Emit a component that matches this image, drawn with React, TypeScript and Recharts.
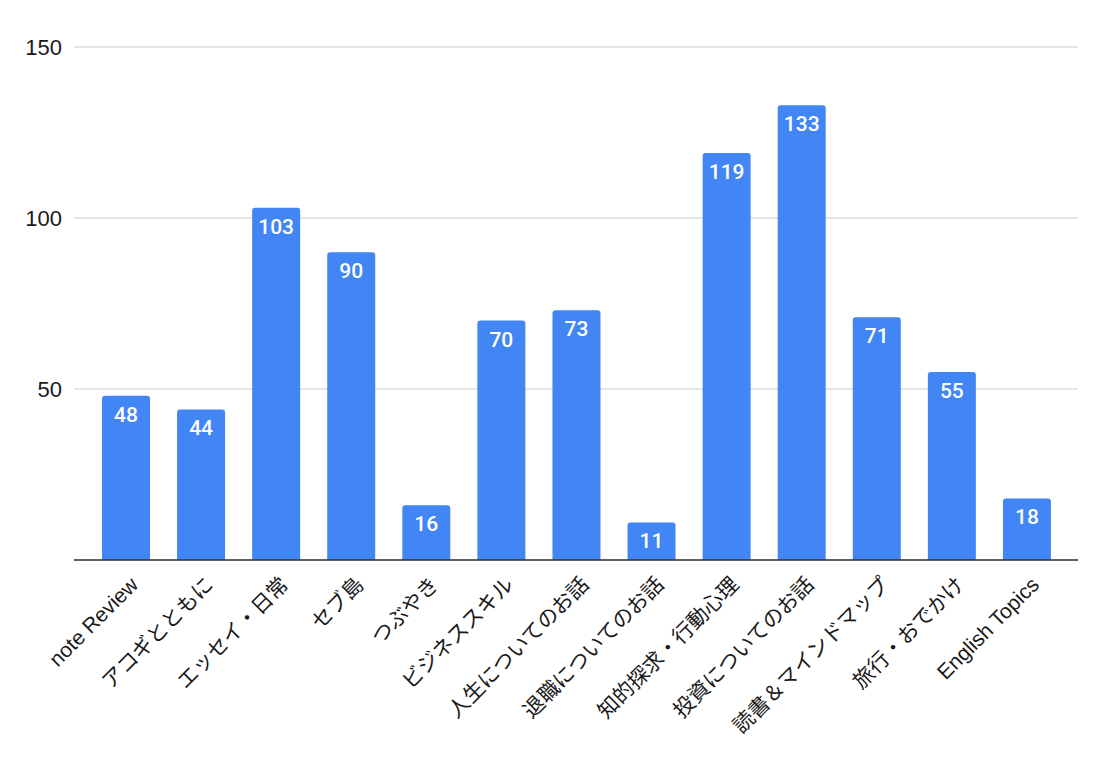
import React from 'react';
import { BarChart, Bar, XAxis, YAxis, CartesianGrid, LabelList } from 'recharts';

const categories = [
  'note Review',
  'アコギとともに',
  'エッセイ・日常',
  'セブ島',
  'つぶやき',
  'ビジネススキル',
  '人生についてのお話',
  '退職についてのお話',
  '知的探求・行動心理',
  '投資についてのお話',
  '読書＆マインドマップ',
  '旅行・おでかけ',
  'English Topics',
];
const counts = [48, 44, 103, 90, 16, 70, 73, 11, 119, 133, 71, 55, 18];
const yTicks = [0, 50, 100, 150];

const FONT = '"Liberation Sans", Arial, "Noto Sans CJK JP", sans-serif';

const chartData = categories.map((name, i) => ({ name, count: counts[i] }));

// rotated category label, anchored at its end just right of the bar centre
const AngledTick = ({ x, y, payload }: any) => {
  const ax = x + 14;
  const ay = y + 18;
  return (
    <text
      x={ax}
      y={ay}
      transform={`rotate(-45, ${ax}, ${ay})`}
      textAnchor="end"
      style={{ fontSize: 21, fontFamily: FONT }}
      fill="#1a1a1a"
    >
      {payload.value}
    </text>
  );
};

const ValueTick = ({ x, y, payload }: any) =>
  payload.value === 0 ? null : (
    <text
      x={x}
      y={y}
      dy="0.36em"
      textAnchor="end"
      style={{ fontSize: 22, fontFamily: FONT }}
      fill="#1a1a1a"
    >
      {payload.value}
    </text>
  );

export default function App() {
  return (
    <div style={{ position: 'absolute', left: 0, top: 0, width: 1110, height: 762, background: '#fff' }}>
      <BarChart
        width={1110}
        height={762}
        data={chartData}
        margin={{ top: 47, right: 32, left: 0, bottom: 0 }}
        barCategoryGap={0}
      >
        <CartesianGrid vertical={false} stroke="#cccccc" strokeWidth={1.2} />
        <XAxis
          dataKey="name"
          interval={0}
          height={202}
          tickLine={false}
          axisLine={{ stroke: '#333', strokeWidth: 1.5 }}
          padding={{ left: 14, right: 14 }}
          tick={<AngledTick />}
        />
        <YAxis
          width={74}
          domain={[0, 150]}
          ticks={yTicks}
          axisLine={false}
          tickLine={false}
          tickMargin={6}
          tick={<ValueTick />}
        />
        <Bar dataKey="count" fill="#4285F4" barSize={48} radius={[3, 3, 0, 0]} isAnimationActive={false}>
          <LabelList
            dataKey="count"
            position="insideTop"
            offset={11}
            fill="#fff"
            style={{ fontSize: 21, fontWeight: 500, fontFamily: 'Roboto, Arial, sans-serif' }}
          />
        </Bar>
      </BarChart>
    </div>
  );
}
